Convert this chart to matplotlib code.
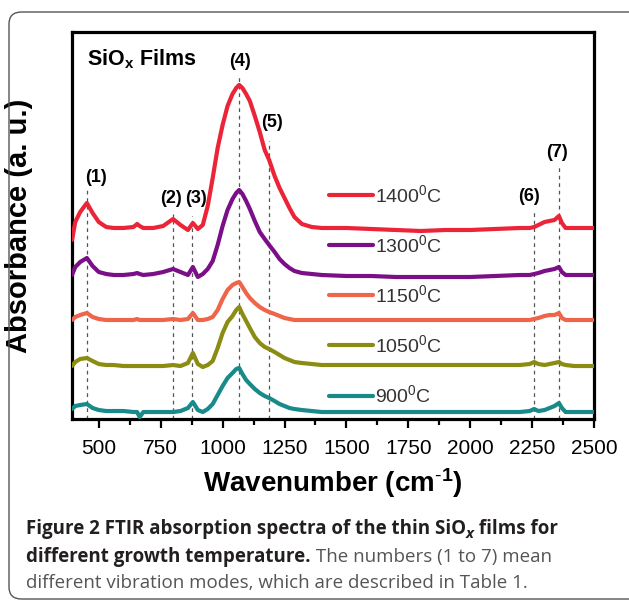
import matplotlib
matplotlib.use("Agg")
import matplotlib.pyplot as plt
from matplotlib.patches import FancyBboxPatch
import numpy as np

plt.rcParams["font.family"] = ["Liberation Sans", "DejaVu Sans"]
plt.rcParams["mathtext.fontset"] = "custom"
plt.rcParams["mathtext.rm"] = "Liberation Sans"
plt.rcParams["mathtext.bf"] = "Liberation Sans:bold"
plt.rcParams["mathtext.it"] = "Liberation Sans:italic"

# ---- FTIR spectra (absorbance, a.u., height above each trace's baseline) ----
wavenumber = [392, 405, 425, 452, 475, 500, 530, 560, 600, 640, 655, 665, 680,
              720, 760, 800, 830, 860, 880, 900, 920, 940, 960, 980, 1000,
              1020, 1040, 1055, 1067, 1080, 1095, 1110, 1130, 1150, 1170,
              1188, 1210, 1230, 1250, 1270, 1290, 1320, 1360, 1400, 1500,
              1600, 1700, 1800, 1900, 2000, 2100, 2200, 2240, 2258, 2275,
              2300, 2320, 2340, 2358, 2370, 2385, 2420, 2500]

abs_1400 = [-0.12, 0.06, 0.16, 0.25, 0.15, 0.06, 0.01, 0.00, 0.00, 0.01, 0.04, 0.02, 0.00,
            0.00, 0.02, 0.09, 0.03, -0.02, 0.05, -0.01, 0.03, 0.22, 0.50, 0.80, 1.03,
            1.22, 1.34, 1.40, 1.43, 1.40, 1.34, 1.27, 1.12, 0.96, 0.78,
            0.68, 0.52, 0.40, 0.30, 0.20, 0.11, 0.04, 0.01, 0.00, 0.00,
            -0.01, -0.02, -0.03, -0.02, -0.02, -0.01, 0.00, 0.00, 0.01, 0.03,
            0.06, 0.07, 0.08, 0.12, 0.05, 0.00, 0.00, 0.00]

abs_1300 = [0.00, 0.08, 0.13, 0.17, 0.09, 0.03, 0.01, 0.00, 0.00, 0.01, 0.02, 0.01, 0.00,
            0.01, 0.03, 0.06, 0.03, 0.00, 0.08, -0.02, 0.01, 0.06, 0.14, 0.30, 0.49,
            0.65, 0.76, 0.82, 0.85, 0.81, 0.74, 0.66, 0.54, 0.43, 0.36,
            0.30, 0.23, 0.16, 0.11, 0.07, 0.04, 0.02, 0.01, 0.00, -0.01,
            -0.01, -0.02, -0.02, -0.02, -0.02, -0.01, 0.00, 0.00, 0.01, 0.02,
            0.04, 0.05, 0.06, 0.08, 0.03, 0.00, 0.00, 0.00]

abs_1150 = [0.00, 0.03, 0.05, 0.07, 0.03, 0.01, 0.00, 0.00, 0.00, 0.00, 0.01, 0.00, 0.00,
            0.00, 0.00, 0.01, 0.00, 0.01, 0.07, 0.00, 0.00, 0.01, 0.03, 0.10, 0.21,
            0.30, 0.35, 0.37, 0.38, 0.33, 0.27, 0.22, 0.17, 0.13, 0.10,
            0.08, 0.06, 0.04, 0.02, 0.01, 0.00, 0.00, 0.00, 0.00, 0.00,
            0.00, 0.00, 0.00, 0.00, 0.00, 0.00, 0.00, 0.00, 0.01, 0.02,
            0.04, 0.05, 0.05, 0.07, 0.02, 0.00, 0.00, 0.00]

abs_1050 = [0.00, 0.04, 0.07, 0.08, 0.05, 0.02, 0.01, 0.01, 0.00, 0.00, 0.00, 0.00, 0.00,
            0.00, 0.00, 0.01, 0.00, 0.03, 0.13, 0.02, -0.01, 0.01, 0.05, 0.18, 0.33,
            0.44, 0.50, 0.56, 0.59, 0.52, 0.45, 0.38, 0.29, 0.23, 0.19,
            0.17, 0.14, 0.11, 0.08, 0.06, 0.04, 0.03, 0.02, 0.01, 0.01,
            0.01, 0.01, 0.01, 0.01, 0.01, 0.01, 0.01, 0.02, 0.04, 0.02,
            0.01, 0.02, 0.03, 0.04, 0.02, 0.01, 0.00, 0.00]

abs_900 = [0.03, 0.06, 0.07, 0.08, 0.04, 0.02, 0.01, 0.01, 0.01, 0.00, 0.00, -0.05, 0.00,
           0.00, 0.00, 0.00, 0.01, 0.04, 0.10, 0.02, 0.00, 0.03, 0.08, 0.17, 0.26,
           0.34, 0.39, 0.43, 0.44, 0.38, 0.32, 0.28, 0.23, 0.19, 0.16,
           0.14, 0.11, 0.08, 0.06, 0.04, 0.03, 0.02, 0.01, 0.00, 0.00,
           0.00, 0.00, 0.00, 0.00, 0.00, 0.00, 0.00, 0.01, 0.03, 0.01,
           0.02, 0.04, 0.06, 0.09, 0.04, 0.00, 0.00, 0.00]

# vertical stacking offsets of the traces
offsets = [1.91, 1.44, 0.99, 0.53, 0.07]
series = [abs_1400, abs_1300, abs_1150, abs_1050, abs_900]
labels = ["1400$^{0}$C", "1300$^{0}$C", "1150$^{0}$C", "1050$^{0}$C", "900$^{0}$C"]
colors = ["#ec2438", "#7a0f87", "#ef6549", "#8b8c12", "#178a89"]

# vibration modes
mode_names = ["(1)", "(2)", "(3)", "(4)", "(5)", "(6)", "(7)"]
mode_pos = [452, 798, 878, 1067, 1188, 2258, 2358]
mode_line_top = [2.31, 2.05, 2.03, 3.42, 2.78, 2.07, 2.55]
mode_label_x = [488, 790, 894, 1071, 1200, 2238, 2350]
mode_label_y = [2.41, 2.20, 2.20, 3.57, 2.96, 2.22, 2.66]

xticks = [500, 750, 1000, 1250, 1500, 1750, 2000, 2250, 2500]

fig = plt.figure(figsize=(6.29, 6.01), dpi=100)
ax = fig.add_axes([0.1145, 0.3028, 0.83, 0.644])

for pos, top in zip(mode_pos, mode_line_top):
    ax.plot([pos, pos], [0, top], ls=(0, (3, 3)), color="#555555", lw=0.9, zorder=1)

wn = np.array(wavenumber)
for vals, off, lab, col in zip(series, offsets, labels, colors):
    ax.plot(wn, np.array(vals) + off, color=col, lw=3.0, label=lab,
            solid_joinstyle="round", solid_capstyle="round", zorder=3)

for name, x, y in zip(mode_names, mode_label_x, mode_label_y):
    ax.text(x, y, name, fontsize=13, fontweight="bold", ha="center", va="center")

ax.text(452, 3.6, r"SiO$_{\mathbf{x}}$ Films", fontsize=15.5, fontweight="bold",
        ha="left", va="center")

ax.set_xlim(392, 2500)
ax.set_ylim(0, 3.87)
ax.set_yticks([])
ax.set_xticks(xticks)
ax.set_xticks([625, 875, 1125, 1375, 1625, 1875, 2125, 2375], minor=True)
ax.tick_params(axis="x", which="major", direction="out", length=6.5, width=1.6,
               labelsize=15, pad=8)
ax.tick_params(axis="x", which="minor", direction="out", length=4, width=1.6)
for sp in ax.spines.values():
    sp.set_linewidth(2.3)

ax.set_xlabel(r"Wavenumber (cm$^{\mathbf{\text{-}1}}$)", fontsize=20, fontweight="bold",
              labelpad=6)
ax.set_ylabel("Absorbance (a. u.)", fontsize=21, fontweight="bold")
ax.yaxis.set_label_coords(-0.075, 0.5)

leg = ax.legend(loc="upper left", bbox_to_anchor=(0.493, 0.607), frameon=False,
                fontsize=14, handlelength=2.25, handletextpad=0.1, labelspacing=1.45,
                borderpad=0, borderaxespad=0)
for t in leg.get_texts():
    t.set_color("#333333")

# rounded frame around the figure panel
frame = FancyBboxPatch((9 / 629, 2 / 601), 640 / 629, 587 / 601,
                       boxstyle="round,pad=0,rounding_size=0.02",
                       transform=fig.transFigure, fill=False, ec="#555555", lw=1.0,
                       clip_on=False)
fig.patches.append(frame)

# caption, assembled piece by piece
fig.canvas.draw()
renderer = fig.canvas.get_renderer()
cap_font = ["Open Sans", "DejaVu Sans"]
dark = "#231f20"
grey = "#555555"
cap_size = 13.5


def put_line(pieces, x0, y):
    x = x0
    for txt, weight, style, col, dy, size in pieces:
        t = fig.text(x / 629, 1 - (y + dy) / 601, txt, fontsize=size, fontweight=weight,
                     fontstyle=style, color=col, family=cap_font, va="baseline", ha="left")
        bb = t.get_window_extent(renderer)
        x = bb.x1


put_line([("Figure 2 FTIR absorption spectra of the thin SiO", "bold", "normal", dark, 0, cap_size),
          ("x", "bold", "italic", dark, 4, cap_size * 0.8),
          (" films for", "bold", "normal", dark, 0, cap_size)], 26, 534)
put_line([("different growth temperature.", "bold", "normal", dark, 0, cap_size),
          (" The numbers (1 to 7) mean", "normal", "normal", grey, 0, cap_size)], 26, 562)
put_line([("different vibration modes, which are described in Table 1.", "normal", "normal",
           grey, 0, cap_size)], 26, 588)

fig.savefig("out.png", dpi=100)
